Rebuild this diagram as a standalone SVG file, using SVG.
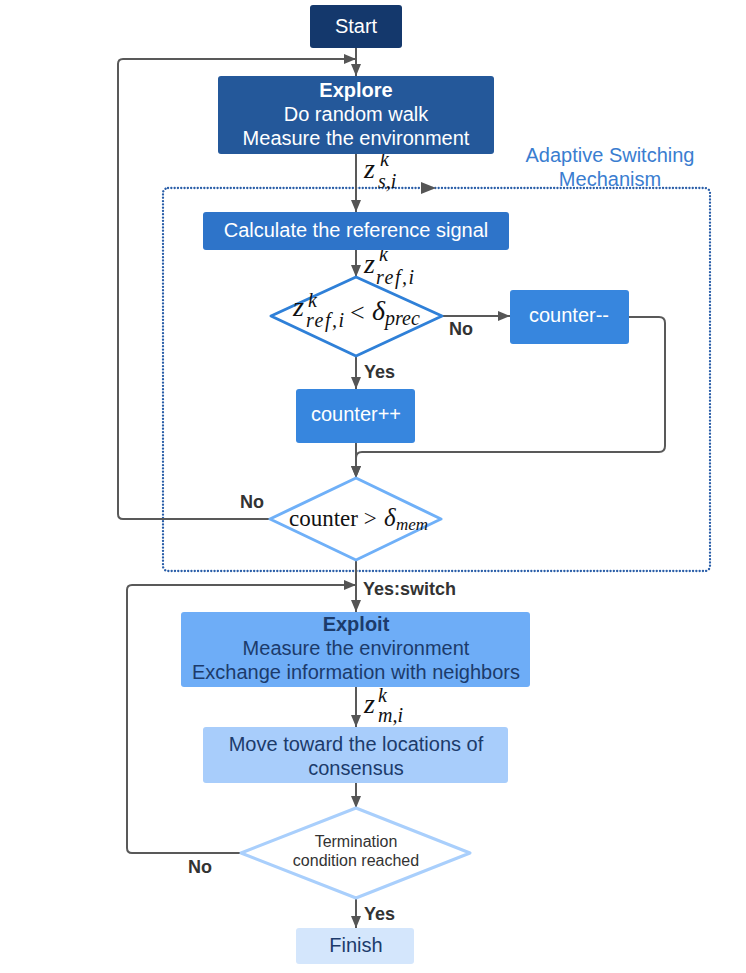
<svg xmlns="http://www.w3.org/2000/svg" width="746" height="973" viewBox="0 0 746 973">
<style>
.box{stroke:none}
.t{font-family:"Liberation Sans",Arial,sans-serif;font-size:20px;text-anchor:middle}
.w{fill:#ffffff}
.n{fill:#1c3b6b}
.lbl{font-family:"Liberation Sans",Arial,sans-serif;font-size:18px;font-weight:bold;fill:#333333}
.m{font-family:"Liberation Serif","Times New Roman",serif;font-style:italic;fill:#111111}
.mr{font-family:"Liberation Serif","Times New Roman",serif;fill:#111111}
.c{fill:none;stroke:#595959;stroke-width:2}
</style>
<defs>
<marker id="ah" markerWidth="12" markerHeight="10" refX="12" refY="5" orient="auto" markerUnits="userSpaceOnUse">
<path d="M0,0 L12,5 L0,10 Z" fill="#555555"/>
</marker>
</defs>
<rect width="746" height="973" fill="#ffffff"/>

<g id="asm">
<rect x="163" y="188" width="547" height="383" rx="5" fill="none" stroke="#2a5ea8" stroke-width="2.3" stroke-dasharray="0.1,3.2" stroke-linecap="round"/>
<path d="M421,182 L436,188 L421,194 Z" fill="#555555"/>
<text class="t" x="610" y="162" style="fill:#3a7dd0">Adaptive Switching</text>
<text class="t" x="610" y="186" style="fill:#3a7dd0">Mechanism</text>
</g>

<g id="connectors">
<path class="c" d="M356,48 L356,76" marker-end="url(#ah)"/>
<path class="c" d="M270,519 L123,519 Q118,519 118,514 L118,64 Q118,59 123,59 L356,59" marker-end="url(#ah)"/>
<path class="c" d="M356,154 L356,212" marker-end="url(#ah)"/>
<path class="c" d="M356,250 L356,277" marker-end="url(#ah)"/>
<path class="c" d="M442,316 L510,316" marker-end="url(#ah)"/>
<path class="c" d="M629,317 L659,317 Q665,317 665,323 L665,446 Q665,452 659,452 L362,452 Q356,452 356,458 L356,478" marker-end="url(#ah)"/>
<path class="c" d="M356,356 L356,389" marker-end="url(#ah)"/>
<path class="c" d="M356,443 L356,478" marker-end="url(#ah)"/>
<path class="c" d="M356,560 L356,612" marker-end="url(#ah)"/>
<path class="c" d="M241,853 L132,853 Q127,853 127,848 L127,590 Q127,585 132,585 L356,585" marker-end="url(#ah)"/>
<path class="c" d="M356,687 L356,727" marker-end="url(#ah)"/>
<path class="c" d="M356,783 L356,808" marker-end="url(#ah)"/>
<path class="c" d="M356,898 L356,928" marker-end="url(#ah)"/>
<text class="lbl" x="449" y="335">No</text>
<text class="lbl" x="364" y="378">Yes</text>
<text class="lbl" x="240" y="508">No</text>
<text class="lbl" x="363" y="595">Yes:switch</text>
<text class="lbl" x="188" y="873">No</text>
<text class="lbl" x="364" y="920">Yes</text>
<text class="m" x="364" y="178" font-size="28">z</text>
<text class="m" x="380" y="166" font-size="20">k</text>
<text class="m" x="378" y="188" font-size="20">s,i</text>
<text class="m" x="364" y="273" font-size="28">z</text>
<text class="m" x="379" y="261" font-size="20">k</text>
<text class="m" x="376" y="284" font-size="20" letter-spacing="1.5">ref,i</text>
<text class="m" x="364" y="713" font-size="28">z</text>
<text class="m" x="378" y="702" font-size="20">k</text>
<text class="m" x="378" y="722" font-size="20">m,i</text>
</g>

<g id="start">
<rect class="box" x="310" y="5" width="92" height="43" rx="3" fill="#14386c"/>
<text class="t w" x="356" y="33">Start</text>
</g>

<g id="explore">
<rect class="box" x="218" y="76" width="276" height="78" rx="3" fill="#24589a"/>
<text class="t w" x="356" y="97" font-weight="bold">Explore</text>
<text class="t w" x="356" y="121">Do random walk</text>
<text class="t w" x="356" y="145">Measure the environment</text>
</g>

<g id="calculate">
<rect class="box" x="203" y="212" width="306" height="38" rx="3" fill="#2e74c9"/>
<text class="t w" x="356" y="237">Calculate the reference signal</text>
</g>

<g id="decision1">
<path d="M356,277 L442,316 L356,356 L271,316 Z" fill="#ffffff" stroke="#2f80d8" stroke-width="3" stroke-linejoin="round"/>
<text class="m" x="293" y="316" font-size="28">z</text>
<text class="m" x="308" y="307" font-size="20">k</text>
<text class="m" x="306" y="327" font-size="20" letter-spacing="1.5">ref,i</text>
<text class="mr" x="350" y="321" font-size="26">&lt;</text>
<text class="m" x="372" y="320" font-size="28">δ</text>
<text class="m" x="385" y="325" font-size="20">prec</text>
</g>

<g id="counterdec">
<rect class="box" x="510" y="290" width="119" height="54" rx="3" fill="#3786de"/>
<text class="t w" x="569" y="322">counter--</text>
</g>

<g id="counterinc">
<rect class="box" x="296" y="389" width="119" height="54" rx="3" fill="#3786de"/>
<text class="t w" x="356" y="421">counter++</text>
</g>

<g id="decision2">
<path d="M356,478 L441,519 L356,560 L270,519 Z" fill="#ffffff" stroke="#6fb0f8" stroke-width="3" stroke-linejoin="round"/>
<text class="mr" x="289" y="526" font-size="23">counter &gt;</text>
<text class="m" x="384" y="526" font-size="25">δ</text>
<text class="m" x="396" y="530" font-size="17">mem</text>
</g>

<g id="exploit">
<rect class="box" x="181" y="612" width="349" height="75" rx="3" fill="#6eadf7"/>
<text class="t n" x="356" y="631" font-weight="bold">Exploit</text>
<text class="t n" x="356" y="655">Measure the environment</text>
<text class="t n" x="356" y="679">Exchange information with neighbors</text>
</g>

<g id="move">
<rect class="box" x="203" y="727" width="305" height="56" rx="3" fill="#a8cdfb"/>
<text class="t n" x="356" y="751">Move toward the locations of</text>
<text class="t n" x="356" y="775">consensus</text>
</g>

<g id="decision3">
<path d="M356,808 L470,853 L356,898 L241,853 Z" fill="#ffffff" stroke="#a9cffc" stroke-width="3" stroke-linejoin="round"/>
<text class="t" x="356" y="847" style="fill:#333333;font-size:16px">Termination</text>
<text class="t" x="356" y="866" style="fill:#333333;font-size:16px">condition reached</text>
</g>

<g id="finish">
<rect class="box" x="296" y="928" width="118" height="36" rx="3" fill="#d4e6fc"/>
<text class="t n" x="356" y="952">Finish</text>
</g>
</svg>
